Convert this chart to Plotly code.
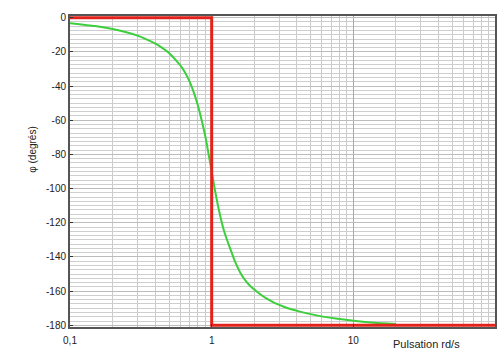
import plotly.graph_objects as go

# Phase response
omega = [0.1, 0.15, 0.2, 0.25, 0.3, 0.35, 0.41, 0.45, 0.5, 0.55, 0.61, 0.65, 0.7, 0.75,
         0.8, 0.85, 0.91, 0.95, 1.0, 1.05, 1.1, 1.16, 1.22, 1.29, 1.37, 1.45, 1.6, 1.75,
         1.87, 2.1, 2.4, 2.8, 3.2, 3.7, 4.2, 5.5, 7.5, 10.4, 14, 20]
phi = [-3.2, -4.9, -6.6, -8.5, -10.5, -12.8, -15.6, -17.8, -20.6, -24.2, -28.6, -32.2, -37.5, -44,
       -51.5, -60, -71, -79.6, -90, -100, -108.7, -117.5, -124.5, -130.5, -136.5, -142, -149.5, -154.3,
       -157, -160.5, -164, -167, -169, -170.8, -172, -174.2, -176, -177.5, -178.5, -179.2]

# Asymptotic phase
asym_omega = [0.1, 1, 1, 100]
asym_phi = [0, 0, -180, -180]

x_tickvals = [0.1, 1, 10, 100]
x_ticktext = ["0,1", "1", "10", "100"]
y_tickvals = [0, -20, -40, -60, -80, -100, -120, -140, -160, -180]
y_ticktext = ["0", "-20", "-40", "-60", "-80", "-100", "-120", "-140", "-160", "-180"]

font_family = "Liberation Sans, Arial, sans-serif"

fig = go.Figure()
fig.add_trace(go.Scatter(x=omega, y=phi, mode="lines", line=dict(color="#3ccf3c", width=2, shape="spline", smoothing=0.5),
                         showlegend=False))
fig.add_trace(go.Scatter(x=asym_omega, y=asym_phi, mode="lines", line=dict(color="#e3221c", width=3),
                         showlegend=False))

fig.update_layout(
    width=497, height=349,
    margin=dict(l=70, r=0, t=16, b=22),
    paper_bgcolor="white", plot_bgcolor="white",
    font=dict(family=font_family, size=10, color="#222"),
    xaxis=dict(
        type="log", range=[-1, 2],
        tickvals=x_tickvals, ticktext=x_ticktext,
        showline=True, linecolor="#555", linewidth=2, mirror=True,
        ticks="inside", ticklen=3, tickcolor="#333", ticklabelstandoff=3,
        showgrid=True, gridcolor="#a8a8a8", gridwidth=1,
        minor=dict(dtick="D1", showgrid=True, gridcolor="#cacaca", gridwidth=1, ticks=""),
        zeroline=False,
    ),
    yaxis=dict(
        range=[-181, 1],
        tickvals=y_tickvals, ticktext=y_ticktext,
        showline=True, linecolor="#555", linewidth=2, mirror=True,
        ticks="inside", ticklen=3, tickcolor="#333",
        showgrid=True, gridcolor="#bcbcbc", gridwidth=1,
        minor=dict(dtick=2.5, tick0=0, showgrid=True, gridcolor="#cecece", gridwidth=1, ticks=""),
        zeroline=False,
    ),
    annotations=[
        dict(text="Pulsation rd/s", xref="paper", yref="paper", x=0.838, y=-0.028,
             xanchor="center", yanchor="top", showarrow=False,
             font=dict(family=font_family, size=11, color="#222")),
        dict(text="φ (degrés)", xref="paper", yref="paper", x=-0.087, y=0.57,
             xanchor="center", yanchor="middle", textangle=-90, showarrow=False,
             font=dict(family=font_family, size=10, color="#222")),
    ],
)

fig.write_html("out.html")
